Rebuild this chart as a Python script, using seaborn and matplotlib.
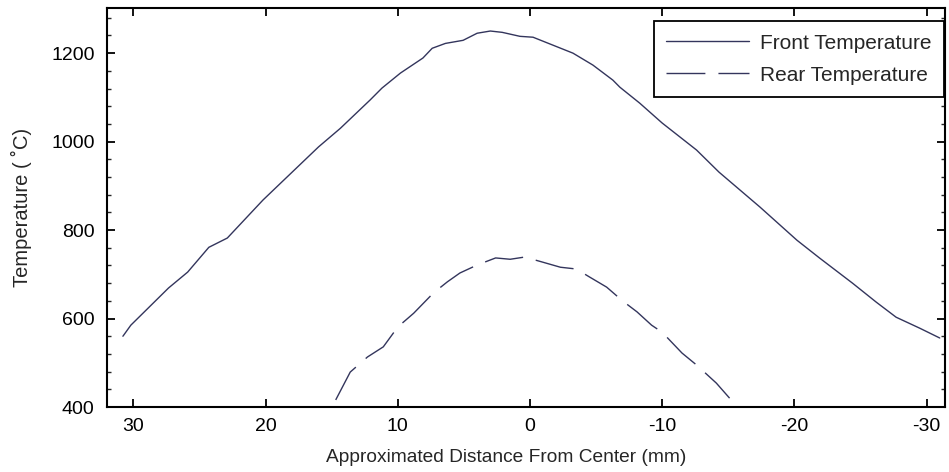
import matplotlib
matplotlib.use("Agg")
import matplotlib.pyplot as plt
import pandas as pd
import seaborn as sns
from matplotlib.ticker import MultipleLocator

# values
front_distance = [30.8, 30.2, 27.35, 25.9, 24.3, 22.9, 20.2, 16.0, 14.35, 12.1, 11.2,
                  9.8, 8.1, 7.4, 6.4, 5.06, 4.0, 3.0, 2.1, 0.76, -0.23, -1.74, -3.25,
                  -4.76, -6.27, -6.8, -8.3, -10.0, -12.6, -14.3, -17.4, -20.2, -21.9,
                  -24.4, -26.2, -27.7, -29.5, -31.0]
front_temp = [560, 585, 669, 705, 761, 782, 868, 988, 1030, 1094, 1121,
              1155, 1189, 1211, 1222, 1229, 1245, 1250, 1247, 1238, 1236, 1218, 1200,
              1173, 1139, 1123, 1087, 1042, 981, 931, 852, 777, 737,
              680, 637, 603, 578, 556]

rear_distance = [14.7, 13.6, 12.3, 11.1, 10.0, 8.8, 7.3, 6.25, 5.3, 4.0, 2.6, 1.5,
                 0.4, -0.9, -2.3, -3.5, -4.5, -5.8, -7.0, -8.1, -9.2, -10.0, -11.5,
                 -12.6, -14.1, -15.1]
rear_temp = [416, 479, 513, 536, 581, 612, 658, 683, 703, 721, 737, 734,
             739, 728, 716, 712, 694, 671, 640, 615, 585, 569, 522,
             495, 454, 420]

series_labels = ["Front Temperature", "Rear Temperature"]
line_color = "#33355c"

front = pd.DataFrame({"distance": front_distance, "temperature": front_temp})
rear = pd.DataFrame({"distance": rear_distance, "temperature": rear_temp})

sns.set_style("ticks")
plt.rcParams["font.family"] = ["Liberation Sans", "DejaVu Sans"]
plt.rcParams["axes.unicode_minus"] = False

fig = plt.figure(figsize=(9.49, 4.72), dpi=100)
ax = fig.add_axes([0.1128, 0.1377, 0.8830, 0.8453])

sns.lineplot(data=front, x="distance", y="temperature", ax=ax, sort=False,
             color=line_color, linewidth=1.0, label=series_labels[0])
sns.lineplot(data=rear, x="distance", y="temperature", ax=ax, sort=False,
             color=line_color, linewidth=1.0, label=series_labels[1])
ax.lines[1].set_dashes((28, 9.4))

ax.set_xlim(32, -31.4)
ax.set_ylim(400, 1302)
ax.xaxis.set_major_locator(MultipleLocator(10))
ax.yaxis.set_major_locator(MultipleLocator(200))
ax.yaxis.set_minor_locator(MultipleLocator(40))

ax.tick_params(axis="both", which="major", direction="in", length=6, width=1.3,
               labelsize=14, colors="black", top=True, right=True)
ax.tick_params(axis="y", which="minor", direction="in", length=3, width=1.0,
               left=True, right=True)
ax.tick_params(axis="x", which="major", pad=8)
ax.tick_params(axis="y", which="major", pad=9)

for spine in ax.spines.values():
    spine.set_visible(True)
    spine.set_linewidth(1.5)
    spine.set_color("black")

ax.set_xlabel("Approximated Distance From Center (mm)", fontsize=13.8)
ax.xaxis.set_label_coords(0.476, -0.105)
ax.set_ylabel("Temperature ( \u02daC)", fontsize=14.5)
ax.yaxis.set_label_coords(-0.089, 0.5)

legend = ax.legend(loc="upper right", bbox_to_anchor=(0.9985, 0.967), fontsize=15,
                   frameon=True, fancybox=False, handlelength=4.0,
                   borderpad=0.6, labelspacing=0.62, handletextpad=0.5,
                   borderaxespad=0.0)
legend.get_frame().set_edgecolor("black")
legend.get_frame().set_linewidth(1.3)
legend.get_frame().set_alpha(1)

fig.savefig("out.png", dpi=100)
